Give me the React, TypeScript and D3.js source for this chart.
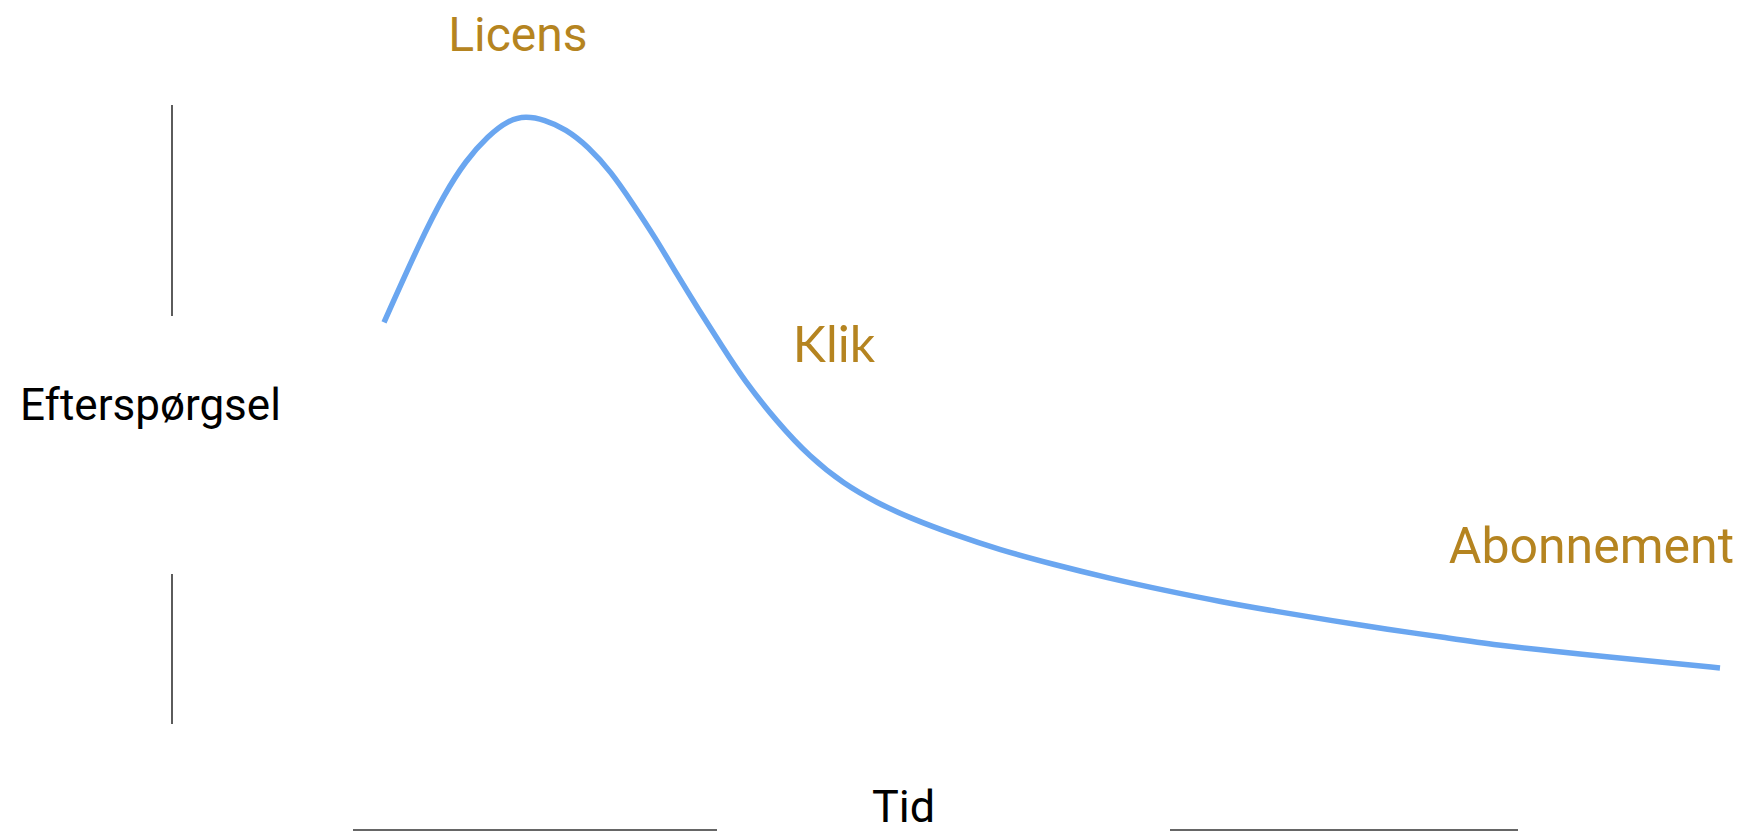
import React, { useEffect, useRef } from "react";
import * as d3 from "d3";

// demand curve, time 0..100 vs demand 0..100
const time = [0, 2.8, 4.5, 6.1, 7.8, 9.3, 10.6, 12.0, 13.6, 15.3, 17.0, 18.6, 20.3, 21.9, 23.6, 25.3, 26.9, 29.4, 31.9, 34.4, 36.9, 39.4, 42.7, 46.0, 50.2, 54.3, 58.5, 62.6, 66.8, 71.0, 75.1, 79.3, 83.4, 87.6, 91.7, 95.9, 100];
const demand = [66.4, 80.0, 87.2, 92.7, 96.8, 99.3, 100, 99.4, 97.9, 95.0, 90.9, 85.8, 80.2, 74.3, 68.3, 62.5, 57.1, 50.2, 44.4, 40.1, 37.0, 34.5, 31.8, 29.4, 26.9, 24.7, 22.7, 20.9, 19.3, 17.8, 16.4, 15.1, 13.8, 12.8, 11.9, 11.0, 10.1];

// phase labels placed in data units
const phaseNames = ["Licens", "Klik", "Abonnement"];
const phaseTime = [4.8, 30.6, 79.7];
const phaseDemand = [110.6, 59.9, 27.2];

const W = 1739;
const H = 834;

const App = () => {
  const ref: any = useRef();

  useEffect(() => {
    document.body.style.margin = "0";

    const x = d3.scaleLinear().domain([0, 100]).range([384, 1720]);
    const y = d3.scaleLinear().domain([0, 100]).range([730, 116]);

    const svg = d3.select(ref.current);
    svg.selectAll("*").remove();

    const pts: [number, number][] = time.map((t, i) => [t, demand[i]]);

    const line = d3
      .line<[number, number]>()
      .x((d) => x(d[0]))
      .y((d) => y(d[1]))
      .curve(d3.curveBasis);

    svg
      .append("path")
      .datum(pts)
      .attr("d", line)
      .attr("fill", "none")
      .attr("stroke", "#6aa6f0")
      .attr("stroke-width", 5.5);

    // y axis: two segments with the label in between
    const axisStroke = "#333";
    svg.append("line").attr("x1", 172).attr("x2", 172).attr("y1", 105).attr("y2", 316)
      .attr("stroke", axisStroke).attr("stroke-width", 1.6);
    svg.append("line").attr("x1", 172).attr("x2", 172).attr("y1", 574).attr("y2", 724)
      .attr("stroke", axisStroke).attr("stroke-width", 1.6);

    svg.append("text")
      .attr("x", 20).attr("y", 420)
      .attr("font-family", "Roboto")
      .attr("font-size", 44)
      .attr("fill", "#000")
      .text("Efterspørgsel");

    // x axis: two segments with the label in between
    svg.append("line").attr("x1", 353).attr("x2", 717).attr("y1", 830).attr("y2", 830)
      .attr("stroke", axisStroke).attr("stroke-width", 1.6);
    svg.append("line").attr("x1", 1170).attr("x2", 1518).attr("y1", 830).attr("y2", 830)
      .attr("stroke", axisStroke).attr("stroke-width", 1.6);

    svg.append("text")
      .attr("x", 872).attr("y", 822)
      .attr("font-family", "Roboto")
      .attr("font-size", 45)
      .attr("fill", "#000")
      .text("Tid");

    const fonts = ["Roboto", "Lato", "Roboto"];
    const sizes = [48, 50, 50];
    svg
      .append("g")
      .selectAll("text")
      .data(phaseNames)
      .join("text")
      .attr("x", (d, i) => x(phaseTime[i]))
      .attr("y", (d, i) => y(phaseDemand[i]))
      .attr("font-family", (d, i) => fonts[i])
      .attr("font-size", (d, i) => sizes[i])
      .attr("fill", "#b58420")
      .text((d) => d);
  }, []);

  return (
    <div>
      <svg ref={ref} width={W} height={H} style={{ display: "block", background: "#fff" }}></svg>
    </div>
  );
};

export default App;
